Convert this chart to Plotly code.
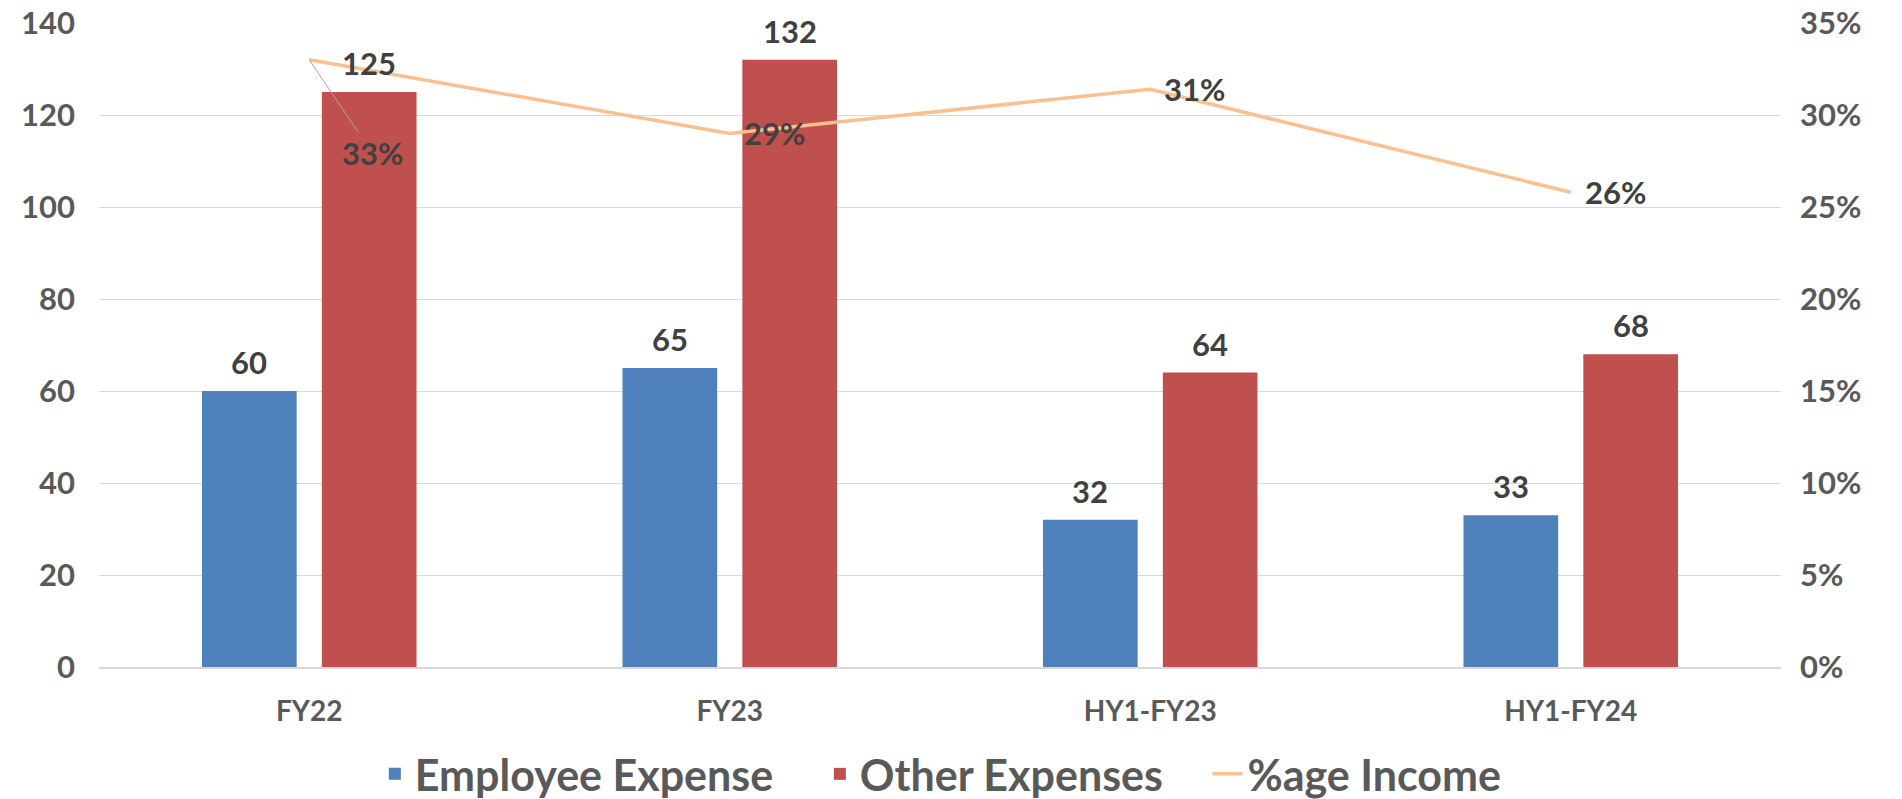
import plotly.graph_objects as go

categories = ['FY22', 'FY23', 'HY1-FY23', 'HY1-FY24']
employee_expense = [60, 65, 32, 33]
other_expenses = [125, 132, 64, 68]
age_income = [0.330, 0.290, 0.314, 0.258]

left_ticks = [0, 20, 40, 60, 80, 100, 120, 140]
right_ticks = [0, 0.05, 0.10, 0.15, 0.20, 0.25, 0.30, 0.35]

FONT = 'Lato'
BLUE = '#4F81BD'
RED = '#C0504D'
ORANGE = '#FAC08F'
TICK_GREY = '#595959'
LABEL_GREY = '#404040'

fig = go.Figure()

fig.add_trace(go.Bar(
    x=categories, y=employee_expense, name='Employee Expense',
    marker=dict(color=BLUE, line=dict(width=0)), legend='legend',
))
fig.add_trace(go.Bar(
    x=categories, y=other_expenses, name='Other Expenses',
    marker=dict(color=RED, line=dict(width=0)), legend='legend',
))
fig.add_trace(go.Scatter(
    x=categories, y=age_income, name='%age Income', yaxis='y2',
    mode='lines', line=dict(color=ORANGE, width=3.5), legend='legend2',
))

# data labels above the bars
annotations = []
label_font = dict(family=FONT, size=31, color=LABEL_GREY, weight=700)
for cat, val in zip(categories, employee_expense):
    annotations.append(dict(x=cat, y=val, xref='x', yref='y', text=str(val),
                            showarrow=False, xshift=-60, yshift=8,
                            yanchor='bottom', font=label_font))
for cat, val in zip(categories, other_expenses):
    annotations.append(dict(x=cat, y=val, xref='x', yref='y', text=str(val),
                            showarrow=False, xshift=60, yshift=8,
                            yanchor='bottom', font=label_font))

# labels for the %age line, first one pulled down with a leader line
for i, (cat, val) in enumerate(zip(categories, age_income)):
    txt = f'{val * 100:.0f}%'
    if i == 0:
        annotations.append(dict(x=cat, y=val, xref='x', yref='y2', text=txt,
                                showarrow=True, arrowhead=0, arrowwidth=1,
                                arrowcolor='#A6A6A6', ax=63, ay=93,
                                font=label_font))
    else:
        annotations.append(dict(x=cat, y=val, xref='x', yref='y2', text=txt,
                                showarrow=False, xanchor='left', xshift=12,
                                yanchor='middle', font=label_font))

legend_font = dict(family=FONT, size=43, color=TICK_GREY, weight=700)

fig.update_layout(
    width=1902, height=799,
    margin=dict(l=99, r=121, t=23, b=132, autoexpand=False),
    paper_bgcolor='white', plot_bgcolor='white',
    barmode='group', bargap=0.43, bargroupgap=0.21,
    font=dict(family=FONT, color=TICK_GREY),
    xaxis=dict(
        type='category', showgrid=False, showline=True, automargin=False,
        linecolor='#D9D9D9', linewidth=2, ticks='',
        tickfont=dict(family=FONT, size=28, color=TICK_GREY, weight=700),
        ticklabelstandoff=18,
    ),
    yaxis=dict(
        range=[0, 140], tickvals=left_ticks, gridcolor='#D9D9D9', gridwidth=1,
        zeroline=False, showline=False, ticks='', automargin=False,
        tickfont=dict(family=FONT, size=31, color=TICK_GREY, weight=700),
        ticklabelstandoff=23,
    ),
    yaxis2=dict(
        range=[0, 0.35], tickvals=right_ticks, tickformat='.0%',
        overlaying='y', side='right', showgrid=False, zeroline=False,
        showline=False, ticks='', automargin=False,
        tickfont=dict(family=FONT, size=31, color=TICK_GREY, weight=700),
        ticklabelstandoff=18,
    ),
    legend=dict(
        orientation='h', x=0.164, xanchor='left', y=-0.166, yanchor='middle',
        font=legend_font, itemwidth=30, traceorder='normal', entrywidth=400,
    ),
    legend2=dict(
        orientation='h', x=0.659, xanchor='left', y=-0.166, yanchor='middle',
        font=legend_font, itemwidth=30,
    ),
    annotations=annotations,
)

# the page body has a default 8px margin; drop it so the chart sits at 0,0
fig.write_html('out.html', config={'displayModeBar': False},
               post_script="document.body.style.margin='0px';")
